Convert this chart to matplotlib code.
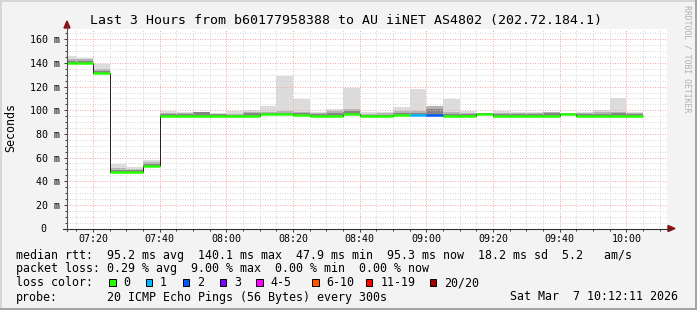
import matplotlib
matplotlib.use("Agg")
import matplotlib.pyplot as plt
from matplotlib.patches import Rectangle, Polygon
from matplotlib.lines import Line2D
from matplotlib.transforms import ScaledTranslation

W, H, DPI = 697, 310, 100
MONO = "DejaVu Sans Mono"

title = "Last 3 Hours from b60177958388 to AU iiNET AS4802 (202.72.184.1)"
y_axis_label = "Seconds"
watermark = "RRDTOOL / TOBI OETIKER"

# ---- data (5-minute steps, first step starts 07:10) ----
first_step_start = "07:10"
step_minutes = 5
median = [140.1, 140.1, 131.9, 48.2, 47.9, 53.2, 95.4, 95.4, 95.4, 95.4,
          95.2, 95.4, 96.6, 96.6, 95.6, 95.3, 95.3, 97.1, 95.2, 95.2,
          96.3, 96.3, 96.3, 95.3, 95.3, 97.2, 95.3, 95.3, 95.3, 95.3,
          96.6, 95.3, 95.3, 95.3, 95.3]
ping_max = [146.0, 144.4, 139.3, 54.6, 51.8, 58.0, 99.7, 98.4, 98.6, 97.7,
            99.4, 100.5, 103.4, 128.6, 109.9, 98.9, 101.2, 119.2, 98.4, 98.4,
            102.6, 118.1, 104.0, 109.9, 99.7, 98.1, 99.7, 98.4, 98.4, 98.4,
            97.5, 98.6, 100.5, 110.8, 98.6]
ping_hi = [143.3, 143.3, 134.8, 51.0, 50.5, 56.3, 97.8, 97.5, 98.4, 97.0,
           97.0, 98.6, 98.5, 99.0, 98.4, 97.7, 99.0, 101.0, 97.0, 97.5,
           99.0, 99.0, 103.5, 98.3, 97.3, 98.0, 97.8, 97.5, 98.0, 98.3,
           97.3, 97.5, 98.4, 98.5, 97.8]
ping_mid = [141.8, 142.0, 133.5, 49.8, 49.5, 54.9, 96.7, 96.7, 98.2, 96.5,
            96.3, 97.5, 97.8, 98.0, 97.5, 97.0, 97.7, 99.0, 96.4, 96.4,
            97.8, 98.0, 101.5, 97.0, 96.5, 97.8, 96.8, 96.5, 96.8, 98.1,
            97.2, 96.5, 97.0, 97.5, 96.8]
ping_min = [139.3, 139.3, 131.1, 47.4, 47.1, 52.4, 94.6, 94.6, 94.6, 94.6,
            94.4, 94.6, 95.8, 95.8, 94.8, 94.5, 94.5, 96.3, 94.4, 94.4,
            95.5, 95.5, 95.5, 94.5, 94.5, 96.4, 94.5, 94.5, 94.5, 94.5,
            95.8, 94.5, 94.5, 94.5, 94.5]
loss_count = [0, 0, 0, 0, 0, 0, 0, 0, 0, 0,
              0, 0, 0, 0, 0, 0, 0, 0, 0, 0,
              0, 1, 2, 0, 0, 0, 0, 0, 0, 0,
              0, 0, 0, 0, 0]

x_range = ("07:12:11", "10:12:11")
x_major_labels = ["07:20", "07:40", "08:00", "08:20", "08:40",
                  "09:00", "09:20", "09:40", "10:00"]
y_ticks = [0, 20, 40, 60, 80, 100, 120, 140, 160]
y_tick_labels = ["0", "20 m", "40 m", "60 m", "80 m", "100 m", "120 m", "140 m", "160 m"]
y_top = 169.2

loss_legend_labels = ["0", "1", "2", "3", "4-5", "6-10", "11-19", "20/20"]
loss_legend_colors = ["#26ff00", "#00b8ff", "#0059ff", "#7e00ff",
                      "#ff00ff", "#ff5500", "#ff0000", "#a10000"]

rtt_stats = {"avg": 95.2, "max": 140.1, "min": 47.9, "now": 95.3, "sd": 18.2, "am": 5.2}
loss_stats = {"avg": 0.29, "max": 9.00, "min": 0.00, "now": 0.00}
probe_text = "20 ICMP Echo Pings (56 Bytes) every 300s"
date_text = "Sat Mar  7 10:12:11 2026"


def to_min(s):
    parts = [int(p) for p in s.split(":")]
    return parts[0] * 60 + parts[1] + (parts[2] / 60 if len(parts) > 2 else 0)


def loss_color(n):
    if n <= 3:
        return loss_legend_colors[n]
    if n <= 5:
        return loss_legend_colors[4]
    if n <= 10:
        return loss_legend_colors[5]
    if n <= 19:
        return loss_legend_colors[6]
    return loss_legend_colors[7]


t0 = to_min(first_step_start)
edges = [t0 + step_minutes * i for i in range(len(median) + 1)]
x_lo, x_hi = to_min(x_range[0]), to_min(x_range[1])

fig = plt.figure(figsize=(W / DPI, H / DPI), dpi=DPI, facecolor="#f3f3f3")


def fx(px):
    return px / W


def fy(py):
    return 1 - py / H


ax = fig.add_axes([fx(67), fy(228.5), 600 / W, 200 / H])
ax.set_facecolor("white")

# smoke
ax.stairs(ping_max, edges, baseline=ping_min, fill=True, color="#dcdcdc", lw=0, zorder=1)
ax.stairs(ping_hi, edges, baseline=ping_min, fill=True, color="#b4b4b4", lw=0, zorder=1.1)
ax.stairs(ping_mid, edges, baseline=ping_min, fill=True, color="#858585", lw=0, zorder=1.2)

# median path + loss-colored bands
ax.stairs(median, edges, baseline=None, color="#2a1a1a", lw=0.7, zorder=3.5)
ax.hlines(median, edges[:-1], edges[1:], colors=[loss_color(n) for n in loss_count],
          lw=1.8, zorder=4)

# ticks and grid
x_major = [to_min(s) for s in x_major_labels]
x_minor = [m for m in (to_min("07:15") + step_minutes * i for i in range(40)) if x_lo <= m <= x_hi]
ax.set_xticks(x_major)
ax.set_xticklabels(x_major_labels, fontfamily=MONO, fontsize=7.2)
ax.set_xticks(x_minor, minor=True)
ax.set_yticks(y_ticks)
ax.set_yticklabels(y_tick_labels, fontfamily=MONO, fontsize=7.2)
ax.set_yticks(list(range(0, 170, 5)), minor=True)
ax.set_xlim(x_lo, x_hi)
ax.set_ylim(0, y_top)
ax.grid(which="minor", color="#d6d6d6", linestyle=(0, (1, 1.5)), lw=0.72)
ax.grid(which="major", color="#f4a8a8", linestyle=(0, (1, 1.5)), lw=0.72)
ax.set_axisbelow(False)
for s in ax.spines.values():
    s.set_visible(False)
ax.tick_params(which="major", length=2.2, width=0.72, color="#404040", direction="out")
ax.tick_params(which="minor", length=1.4, width=0.72, color="#404040", direction="out")
ax.tick_params(axis="x", which="major", pad=1.5)
ax.tick_params(axis="y", which="major", pad=3.0)
lbl0 = ax.get_yticklabels()[0]
lbl0.set_transform(lbl0.get_transform() + ScaledTranslation(-13 / DPI, 0, fig.dpi_scale_trans))

# axis lines with arrows
fig.add_artist(Line2D([fx(63), fx(670)], [fy(228.5), fy(228.5)], color="#303030", lw=0.8))
fig.add_artist(Line2D([fx(67), fx(67)], [fy(231), fy(26)], color="#505050", lw=0.8))
fig.add_artist(Polygon([(fx(668), fy(225.5)), (fx(675), fy(228.5)), (fx(668), fy(231.5))],
                       closed=True, color="#8b1010", transform=fig.transFigure))
fig.add_artist(Polygon([(fx(64), fy(28)), (fx(67), fy(21)), (fx(70), fy(28))],
                       closed=True, color="#8b1010", transform=fig.transFigure))

# texts
fig.text(fx(346.5), fy(24), title, ha="center", va="baseline", fontfamily=MONO, fontsize=9.5,
         color="#000000")
fig.text(fx(10.5), fy(127.5), y_axis_label, rotation=90, ha="center", va="center",
         fontfamily=MONO, fontsize=8.4)
fig.text(fx(687), fy(5), watermark, rotation=270, ha="center", va="top",
         fontfamily=MONO, fontsize=5.9, color="#b0b0b0")

line1 = ("median rtt:  {avg:.1f} ms avg  {max:.1f} ms max  {min:.1f} ms min  "
         "{now:.1f} ms now  {sd:.1f} ms sd  {am:.1f}   am/s").format(**rtt_stats)
line2 = ("packet loss: {avg:.2f} % avg  {max:.2f} % max  {min:.2f} % min  "
         "{now:.2f} % now").format(**loss_stats)
fig.text(fx(16), fy(258.5), line1, ha="left", va="baseline", fontfamily=MONO, fontsize=8.4)
fig.text(fx(16), fy(272.3), line2, ha="left", va="baseline", fontfamily=MONO, fontsize=8.4)
fig.text(fx(16), fy(286.5), "loss color:", ha="left", va="baseline", fontfamily=MONO, fontsize=8.4)
box_x = [109, 145.7, 182.7, 219.5, 256, 312, 366, 430]
for bx, lab, col in zip(box_x, loss_legend_labels, loss_legend_colors):
    fig.add_artist(Rectangle((fx(bx), fy(286)), 6.5 / W, 7 / H, facecolor=col,
                             edgecolor="black", lw=0.7, transform=fig.transFigure))
    fig.text(fx(bx + 14.3), fy(286.5), lab, ha="left", va="baseline", fontfamily=MONO, fontsize=8.4)
fig.text(fx(16), fy(300.5), "probe:", ha="left", va="baseline", fontfamily=MONO, fontsize=8.4)
fig.text(fx(107.3), fy(300.5), probe_text, ha="left", va="baseline", fontfamily=MONO, fontsize=8.4)
fig.text(fx(678.5), fy(300.5), date_text, ha="right", va="baseline", fontfamily=MONO, fontsize=8.4)

# 3D border
fig.add_artist(Rectangle((0, 0), 1, 2 / H, color="#a4a4a4", transform=fig.transFigure, lw=0))
fig.add_artist(Rectangle((1 - 2 / W, 0), 2 / W, 1, color="#a4a4a4", transform=fig.transFigure, lw=0))
fig.add_artist(Rectangle((0, 1 - 2 / H), 1 - 2 / W, 2 / H, color="#d6d6d6", transform=fig.transFigure, lw=0))
fig.add_artist(Rectangle((0, 2 / H), 2 / W, 1 - 4 / H, color="#d6d6d6", transform=fig.transFigure, lw=0))

fig.savefig("out.png", dpi=DPI, facecolor=fig.get_facecolor())
